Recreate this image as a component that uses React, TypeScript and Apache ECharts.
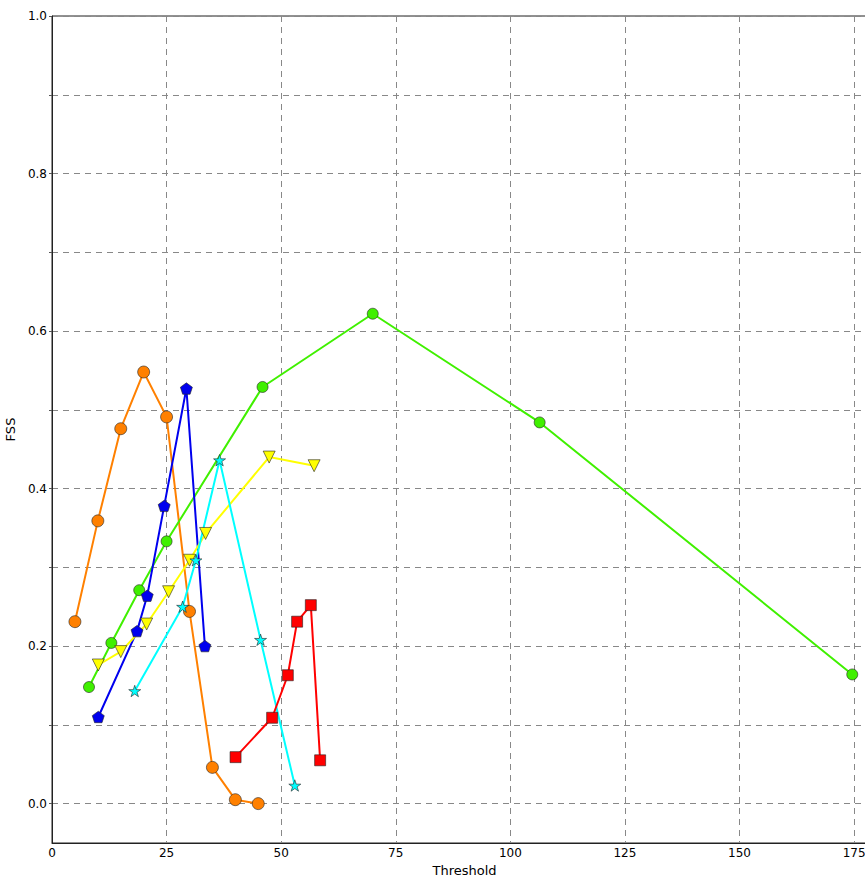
import React, { useEffect, useRef } from "react";
import * as echarts from "echarts";

const orangeX = [5, 10, 15, 20, 25, 30, 35, 40, 45];
const orangeY = [0.231, 0.359, 0.476, 0.548, 0.491, 0.244, 0.046, 0.005, 0.0];

const greenX = [8.07, 12.95, 19.03, 25.0, 45.94, 69.98, 106.4, 174.6];
const greenY = [0.148, 0.204, 0.271, 0.333, 0.529, 0.622, 0.484, 0.164];

const blueX = [10.1, 18.55, 20.78, 24.48, 29.32, 33.36];
const blueY = [0.11, 0.219, 0.264, 0.378, 0.527, 0.2];

const yellowX = [10.1, 15.0, 20.65, 25.44, 30.02, 33.51, 47.38, 57.19];
const yellowY = [0.176, 0.193, 0.228, 0.269, 0.309, 0.343, 0.44, 0.429];

const cyanX = [18.05, 28.5, 31.4, 36.56, 45.5, 52.98];
const cyanY = [0.143, 0.25, 0.309, 0.436, 0.208, 0.023];

const redX = [40.05, 48.03, 51.45, 53.48, 56.47, 58.5];
const redY = [0.059, 0.109, 0.163, 0.231, 0.252, 0.055];

const yLabelValues = [0, 0.2, 0.4, 0.6, 0.8, 1.0];
const yGridValues = [0, 0.1, 0.2, 0.3, 0.4, 0.5, 0.6, 0.7, 0.8, 0.9, 1.0];

const PENTAGON =
  "path://M0,-1 L0.951,-0.309 L0.588,0.809 L-0.588,0.809 L-0.951,-0.309 Z";
const STAR =
  "path://M0,-1 L0.2245,-0.309 L0.951,-0.309 L0.363,0.118 L0.588,0.809 L0,0.382 L-0.588,0.809 L-0.363,0.118 L-0.951,-0.309 L-0.2245,-0.309 Z";

const zip = (xs: number[], ys: number[]) => xs.map((x, i) => [x, ys[i]]);

const FONT = "DejaVu Sans";

function mkSeries(
  name: string,
  xs: number[],
  ys: number[],
  color: string,
  symbol: string,
  size: number,
  rotate = 0
) {
  return {
    name,
    type: "line",
    data: zip(xs, ys),
    symbol,
    symbolSize: size,
    symbolRotate: rotate,
    symbolKeepAspect: true,
    showAllSymbol: true,
    lineStyle: { color, width: 2 },
    itemStyle: { color, borderColor: "#222", borderWidth: 0.6 },
    emphasis: { disabled: true },
  };
}

export default function App() {
  const ref = useRef<HTMLDivElement>(null);
  useEffect(() => {
    if (!ref.current) return;
    const chart = echarts.init(ref.current, undefined, { renderer: "svg" });
    chart.setOption({
      animation: false,
      backgroundColor: "#ffffff",
      grid: {
        left: 52,
        top: 16,
        right: 3,
        bottom: 34,
        containLabel: false,
        outerBoundsMode: "none",
        show: true,
        borderColor: "#222",
        borderWidth: 1,
        backgroundColor: "transparent",
      },
      xAxis: {
        type: "value",
        min: 0,
        max: 180,
        interval: 25,
        name: "Threshold",
        nameLocation: "middle",
        nameGap: 20,
        nameTextStyle: { fontFamily: FONT, fontSize: 13, color: "#000" },
        axisLine: {
          show: true,
          onZero: false,
          lineStyle: { color: "#222", width: 1 },
        },
        axisTick: { show: false },
        axisLabel: {
          fontFamily: FONT,
          fontSize: 12,
          color: "#000",
          margin: 4,
          showMaxLabel: false,
        },
        splitLine: {
          show: true,
          lineStyle: { color: "#888", type: [6, 5], width: 1 },
        },
      },
      yAxis: {
        type: "value",
        min: -0.05,
        max: 1.0,
        name: "FSS",
        nameLocation: "middle",
        nameGap: 31,
        nameRotate: 90,
        nameTextStyle: { fontFamily: FONT, fontSize: 13, color: "#000" },
        axisLine: {
          show: true,
          onZero: false,
          lineStyle: { color: "#222", width: 1 },
        },
        axisTick: {
          show: true,
          inside: false,
          length: 3,
          customValues: yGridValues,
          lineStyle: { color: "#555" },
        },
        axisLabel: {
          fontFamily: FONT,
          fontSize: 12,
          color: "#000",
          margin: 5,
          customValues: yLabelValues,
          formatter: (v: number) => v.toFixed(1),
        },
        splitLine: {
          show: true,
          lineStyle: { color: "#888", type: [6, 5], width: 1 },
        },
      },
      series: [
        mkSeries("orange", orangeX, orangeY, "#ff8000", "circle", 12),
        mkSeries("green", greenX, greenY, "#40f000", "circle", 11),
        mkSeries("blue", blueX, blueY, "#0000ee", PENTAGON, 12),
        mkSeries("yellow", yellowX, yellowY, "#ffff00", "triangle", 12, 180),
        mkSeries("cyan", cyanX, cyanY, "#00ffff", STAR, 12),
        mkSeries("red", redX, redY, "#ff0000", "rect", 11),
      ],
    });
    return () => chart.dispose();
  }, []);
  return (
    <div
      style={{
        position: "fixed",
        left: 0,
        top: 0,
        width: 865,
        height: 877,
        overflow: "hidden",
        background: "#fff",
      }}
    >
      <div ref={ref} style={{ width: 880, height: 877 }} />
    </div>
  );
}
